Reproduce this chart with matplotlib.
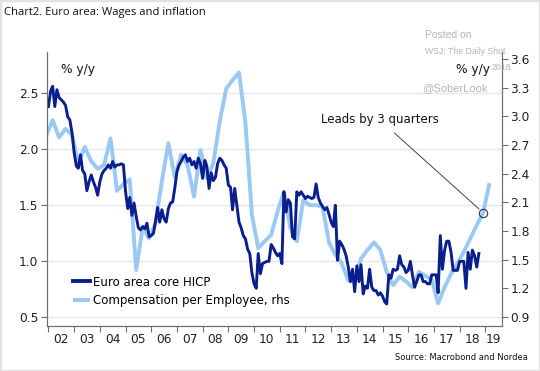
import pandas as pd
import matplotlib
matplotlib.use("Agg")
import matplotlib.pyplot as plt

# Euro area core HICP, % y/y, monthly from Jan 2002 (left axis)
hicp_start = "2002-01-01"
hicp = [
    2.38, 2.52, 2.56, 2.38, 2.53, 2.46, 2.44, 2.42, 2.39, 2.29, 2.26, 2.15,  # 2002
    1.97, 1.85, 1.83, 1.95, 1.81, 1.78, 1.63, 1.71, 1.77, 1.71, 1.66, 1.59,  # 2003
    1.71, 1.78, 1.81, 1.83, 1.86, 1.83, 1.89, 1.84, 1.86, 1.86, 1.87, 1.86,  # 2004
    1.62, 1.47, 1.57, 1.41, 1.52, 1.40, 1.30, 1.28, 1.31, 1.29, 1.34, 1.22,  # 2005
    1.23, 1.25, 1.35, 1.48, 1.35, 1.46, 1.38, 1.35, 1.47, 1.52, 1.53, 1.65,  # 2006
    1.80, 1.86, 1.89, 1.93, 1.95, 1.89, 1.92, 1.86, 1.89, 1.83, 1.92, 1.87,  # 2007
    1.74, 1.90, 1.85, 1.65, 1.79, 1.72, 1.75, 1.87, 1.92, 1.90, 1.86, 1.83,  # 2008
    1.68, 1.66, 1.46, 1.65, 1.50, 1.35, 1.30, 1.23, 1.20, 1.11, 1.07, 0.90,  # 2009
    0.80, 0.76, 1.07, 0.89, 0.98, 0.99, 1.00, 1.00, 1.15, 1.12, 1.08, 1.05,  # 2010
    1.07, 0.98, 1.62, 1.44, 1.55, 1.52, 1.22, 1.20, 1.62, 1.59, 1.62, 1.59,  # 2011
    1.56, 1.58, 1.57, 1.56, 1.57, 1.69, 1.57, 1.52, 1.49, 1.46, 1.48, 1.42,  # 2012
    1.35, 1.31, 1.50, 1.01, 1.18, 1.15, 1.11, 1.05, 0.95, 0.82, 0.93, 0.73,  # 2013
    0.96, 0.82, 0.97, 0.71, 0.78, 0.76, 0.93, 0.77, 0.74, 0.74, 0.70, 0.72,  # 2014
    0.69, 0.64, 0.62, 0.88, 0.85, 0.93, 0.92, 0.93, 1.05, 0.97, 0.95, 0.90,  # 2015
    0.92, 1.00, 0.88, 0.77, 0.82, 0.88, 0.88, 0.82, 0.82, 0.80, 0.80, 0.88,  # 2016
    0.88, 0.88, 0.72, 1.23, 0.93, 1.10, 1.18, 1.18, 1.08, 0.92, 0.92, 0.92,  # 2017
    1.00, 1.00, 1.00, 0.76, 1.08, 0.93, 1.10, 1.05, 0.95, 1.07,              # 2018
]

# Compensation per employee, % y/y, quarterly, pushed forward 3 quarters (right axis)
comp_start = "2001-12-01"
comp = [
    2.80, 2.96, 2.78, 2.87, 2.81, 2.51, 2.68, 2.53, 2.45, 2.49,
    2.77, 2.22, 2.29, 2.34, 1.39, 1.84, 1.72, 1.88, 2.32, 2.72,
    2.36, 2.60, 2.49, 2.16, 2.65, 2.35, 2.51, 2.95, 3.29, 3.38,
    3.46, 2.93, 1.97, 1.62, 1.69, 1.76, 2.00, 2.21, 1.83, 1.69,
    2.12, 2.07, 2.07, 2.05, 1.68, 1.55, 1.46, 1.28, 1.27, 1.51,
    1.60, 1.68, 1.60, 1.37, 1.23, 1.32, 1.27, 1.21, 1.37, 1.33,
    1.29, 1.04, 1.21, 1.35, 1.46, 1.58, 1.72, 1.86, 1.99, 2.30,
]

years = list(range(2002, 2020))
year_labels = ["%02d" % (y % 100) for y in years]
left_ticks = [0.5, 1.0, 1.5, 2.0, 2.5]
right_ticks = [0.9, 1.2, 1.5, 1.8, 2.1, 2.4, 2.7, 3.0, 3.3, 3.6]

hicp_dates = pd.date_range(hicp_start, periods=len(hicp), freq="MS")
comp_dates = pd.date_range(comp_start, periods=len(comp), freq="3MS")

dark = "#0b1e8e"
light = "#99c9f4"
spine_col = "#6e6e6e"

plt.rcParams["font.family"] = ["DejaVu Sans"]

fig = plt.figure(figsize=(5.4, 3.71), dpi=100)
ax = fig.add_axes([0.0865, 0.1213, 0.843, 0.7385])
ax2 = ax.twinx()

# Right axis: compensation per employee
ax2.plot(comp_dates, comp, color=light, lw=2.8, solid_capstyle="butt",
         label="Compensation per Employee, rhs", zorder=2)

# horizontal grid at the left-axis ticks, drawn underneath both lines
ax2.hlines(left_ticks, 0, 1, transform=ax.get_yaxis_transform(),
           color="#e6e6e6", lw=1, zorder=0)

# Left axis: core HICP on top
ax.set_zorder(ax2.get_zorder() + 1)
ax.patch.set_visible(False)
ax.plot(hicp_dates, hicp, color=dark, lw=2.1, label="Euro area core HICP")

xmin = pd.Timestamp("2001-12-07")
xmax = pd.Timestamp("2019-08-25")
ax.set_xlim(xmin, xmax)
ax.set_ylim(0.424, 2.866)
ax2.set_ylim(0.803, 3.675)

# year ticks, labels centred in each year
ax.set_xticks([pd.Timestamp(f"{y}-01-01") for y in years])
ax.set_xticklabels([])
label_pos = [pd.Timestamp(f"{y}-07-01") for y in years[:-1]]
label_pos.append(pd.Timestamp("2019-01-01") + (xmax - pd.Timestamp("2019-01-01")) / 2)
ax.set_xticks(label_pos, minor=True)
ax.set_xticklabels(year_labels, minor=True)
ax.tick_params(axis="x", which="major", direction="out", length=4, width=0.8, color=spine_col)
ax.tick_params(axis="x", which="minor", length=0, labelsize=8.8, pad=5, labelcolor="#222222")

ax.set_yticks(left_ticks)
ax.set_yticklabels(["%.1f" % t for t in left_ticks])
ax2.set_yticks(right_ticks)
ax2.set_yticklabels(["%.1f" % t for t in right_ticks])
for a in (ax, ax2):
    a.tick_params(axis="y", direction="out", length=4, width=0.8, color=spine_col,
                  labelsize=8.8, labelcolor="#222222", pad=2)
    a.spines["top"].set_visible(False)
    for s in ("left", "right", "bottom"):
        a.spines[s].set_color(spine_col)
        a.spines[s].set_linewidth(0.8)

# legend
h1, l1 = ax.get_legend_handles_labels()
h2, l2 = ax2.get_legend_handles_labels()
leg = ax.legend(h1 + h2, l1 + l2, loc="lower left", bbox_to_anchor=(0.058, 0.07),
                frameon=False, fontsize=8.5, handlelength=1.4, handletextpad=0.3,
                labelspacing=0.45, borderpad=0, borderaxespad=0)
for line in leg.get_lines():
    line.set_linewidth(2.8)

# annotation on the compensation line
ax2.plot(comp_dates[-2], comp[-2], "o", ms=6, mfc="none", mec="#333333", mew=0.8, zorder=5)
ax2.annotate("Leads by 3 quarters", xy=(comp_dates[-2], comp[-2]),
             xytext=(380, 371 - 120), textcoords="figure pixels",
             ha="center", va="center", fontsize=8.5, color="#111111",
             arrowprops=dict(arrowstyle="-", color="#444444", lw=0.7,
                             shrinkA=4, shrinkB=4))

# axis unit labels
fig.text(61 / 540, 1 - 70 / 371, "% y/y", fontsize=8.8, va="center", ha="left", color="#111111")
fig.text(490 / 540, 1 - 69 / 371, "% y/y", fontsize=8.8, va="center", ha="right", color="#111111")

# title and source
fig.text(4 / 540, 1 - 12 / 371, "Chart2. Euro area: Wages and inflation", fontsize=8.1,
         family=["Open Sans", "DejaVu Sans"], va="center", ha="left", color="#111111")
fig.text(528 / 540, 1 - 357 / 371, "Source: Macrobond and Nordea", fontsize=6,
         va="center", ha="right", color="#111111")

# watermark
wm = dict(family=["Liberation Sans"], color="#b5b5b5", ha="left", va="center")
fig.text(425 / 540, 1 - 35 / 371, "Posted on", fontsize=7.5, **wm)
fig.text(425 / 540, 1 - 52 / 371, "WSJ: The Daily Shot", fontsize=6.3, **wm)
fig.text(492 / 540, 1 - 67 / 371, "2018", fontsize=6.3, **wm)
fig.text(422 / 540, 1 - 88 / 371, "@SoberLook", fontsize=8, **wm)

# light grey frame around the picture
fig.patches.append(plt.Rectangle((0, 0), 1, 1, transform=fig.transFigure, fill=False,
                                 edgecolor="#e2e2e2", lw=2.5))

plt.savefig("out.png", dpi=100)
